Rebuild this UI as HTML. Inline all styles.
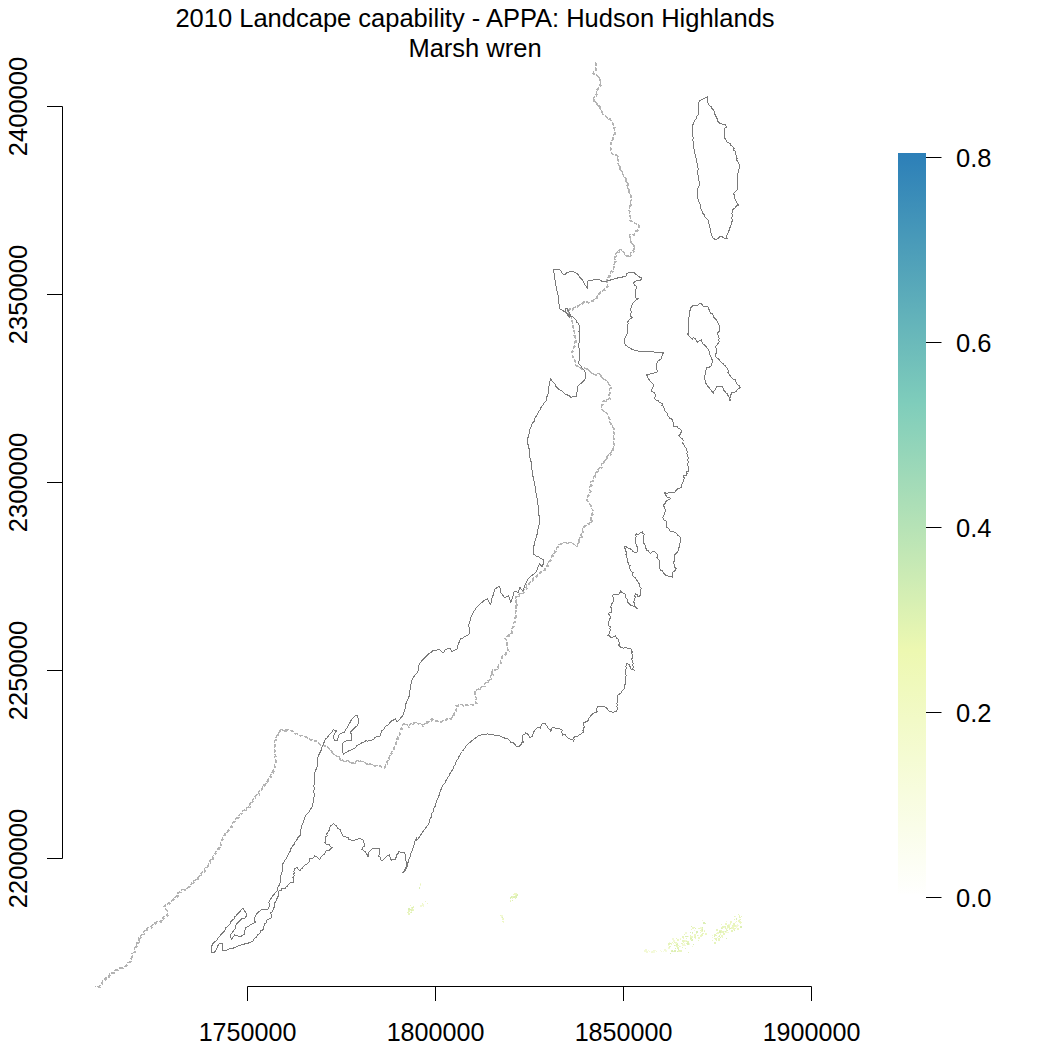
<!DOCTYPE html>
<html><head><meta charset="utf-8"><title>Landscape capability</title>
<style>html,body{margin:0;padding:0;background:#fff;width:1050px;height:1050px;overflow:hidden}svg{display:block}</style>
</head><body>
<svg width="1050" height="1050" viewBox="0 0 1050 1050"><defs><linearGradient id="cb" gradientUnits="userSpaceOnUse" x1="0" y1="897.5" x2="0" y2="153"><stop offset="0" stop-color="#ffffff"/><stop offset="0.3317" stop-color="#edf8b1"/><stop offset="0.6634" stop-color="#7fcdbb"/><stop offset="1" stop-color="#2c7fb8"/></linearGradient></defs><rect width="1050" height="1050" fill="#fff"/><polyline points="595.5,62.1 596.2,64.8 595.8,67.5 595.7,70.0 593.9,71.7 593.0,73.6 595.3,74.2 597.0,75.9 599.9,76.9 599.6,80.1 600.6,83.6 599.6,85.9 598.1,88.1 596.4,90.1 596.6,92.9 595.7,95.2 594.2,97.4 593.0,100.3 594.9,101.6 596.6,103.1 597.2,105.5 599.9,106.2 600.1,108.6 601.9,111.5 602.6,114.2 604.6,115.3 606.4,116.8 607.9,118.7 610.6,119.1 611.3,121.6 612.6,123.7 614.3,125.7 613.9,127.9 614.6,130.2 614.4,132.4 614.0,134.5 613.0,136.6 612.6,138.8 612.0,141.0 610.7,143.0 610.6,146.1 610.4,149.1 611.5,153.7 614.3,154.7 617.7,155.4 617.5,157.9 618.0,160.2 617.7,162.7 618.4,165.1 620.1,167.0 619.9,169.6 622.3,171.2 622.7,173.6 623.1,176.1 625.1,178.0 625.5,180.6 627.2,182.7 627.1,185.5 627.7,188.0 628.8,190.4 629.1,193.1 630.8,195.3 631.0,197.8 630.8,200.2 630.4,202.6 630.3,205.0 629.2,207.3 629.0,209.9 629.8,212.4 629.5,215.0 630.6,217.4 629.7,220.2 632.5,221.3 635.1,223.1 638.5,223.7 638.7,226.9 637.7,229.7 635.4,231.4 634.1,234.4 631.4,234.5 629.6,235.1 630.1,238.0 630.4,240.4 631.0,243.2 633.7,244.8 634.2,249.2 632.8,251.1 630.8,252.7 629.6,256.6 625.6,255.1 623.3,251.3 620.4,249.3 618.7,251.0 616.7,252.6 614.8,256.3 614.8,258.7 615.2,261.1 614.6,263.2 613.4,265.6 613.7,268.8 610.9,271.8 609.7,274.2 608.6,276.7 607.1,278.9 606.9,281.8 607.5,284.8 606.1,288.5 603.7,289.5 601.9,291.2 599.8,292.6 597.5,295.1 596.4,298.0 593.3,300.0 591.2,301.2 589.4,302.4 585.8,301.9 583.1,302.1 581.5,303.6 579.8,304.7 577.7,305.6 575.8,307.1 573.6,307.9 571.7,309.2 569.2,309.1 567.4,310.3 568.7,312.5 569.8,314.8 571.3,317.2 571.3,319.6 572.1,321.9 572.6,324.2 572.6,326.5 573.3,328.6 573.6,330.9 574.8,332.8 574.0,335.4 575.1,337.3 575.5,340.1 574.9,342.7 574.3,345.4 573.6,347.6 573.3,350.0 571.4,352.1 571.6,354.4 572.9,356.5 573.3,358.7 574.7,360.7 575.3,362.9 575.4,365.0 578.5,366.3 581.2,368.6 584.1,368.1 586.8,368.5 588.7,370.5 591.3,372.4 593.2,374.1 595.5,374.5 597.7,373.4 600.0,374.0 601.0,376.4 602.9,378.1 604.8,379.7 607.1,381.1 608.6,383.9 610.6,386.7 609.5,389.9 609.6,392.7 608.9,395.3 609.2,398.4 606.6,399.9 603.2,400.8 602.3,403.1 601.9,405.5 601.5,408.5 603.0,410.3 604.7,412.0 607.0,413.2 608.2,415.3 608.8,417.7 609.6,420.1 609.8,422.1 610.9,424.1 612.4,425.9 613.3,428.0 613.0,430.8 614.1,433.4 613.5,436.2 613.6,438.7 613.2,441.0 613.8,443.4 613.6,445.7 613.1,448.1 612.0,450.5 610.8,452.9 608.9,455.0 607.1,456.5 605.7,458.4 604.8,460.6 603.1,462.2 601.4,463.9 601.2,466.8 598.9,468.5 597.1,470.6 596.0,472.9 594.7,475.2 593.7,477.8 592.8,480.3 590.5,482.2 591.1,484.6 590.0,486.7 589.5,489.0 590.3,491.4 589.4,493.6 587.6,495.6 587.0,498.0 587.0,500.1 588.6,502.3 590.2,504.5 590.6,507.6 592.3,509.3 593.1,512.0 591.5,514.4 590.9,516.9 591.1,519.5 591.1,522.3 588.6,523.2 586.5,525.1 584.6,525.9 582.4,527.7 582.5,530.0 582.1,532.2 580.9,534.2 581.2,536.7 579.4,538.5 578.3,540.8 578.1,543.6 576.2,546.0 574.5,544.5 572.9,543.4 570.7,542.5 568.4,542.9 566.1,542.4 564.2,542.6 561.4,542.6 559.8,544.6 557.6,545.6 556.5,549.1 554.6,551.1 554.0,553.8 551.9,555.6 551.2,558.3 549.7,560.4 548.3,562.6 547.6,565.3 545.5,567.1 544.4,569.6 542.8,571.4 540.1,571.9 539.0,574.3 536.9,575.5 534.8,576.7 533.2,578.5 532.0,580.5 530.2,582.0 528.7,583.6 526.8,585.1 526.3,587.5 524.3,589.0 523.5,591.2 522.1,593.2 519.7,593.8 518.1,595.4 516.1,596.7 515.7,599.0 515.5,601.3 516.3,603.5 516.0,605.8 516.2,608.1 515.9,610.6 515.2,613.1 515.3,615.7 514.9,618.2 514.7,620.8 513.5,623.1 513.2,625.6 512.2,627.9 511.4,630.3 511.7,633.2 509.4,634.7 507.0,636.1 505.1,638.7 506.7,641.0 507.0,643.6 506.8,646.2 508.2,650.5 506.4,652.2 505.1,654.3 502.6,655.6 501.5,657.7 500.3,659.8 500.6,662.6 498.7,664.4 497.8,666.7 497.3,669.6 492.7,669.8 491.7,671.8 492.3,674.4 490.3,676.0 490.4,678.5 489.5,680.5 487.0,681.3 485.3,683.1 484.2,685.5 482.0,686.7 480.0,688.1 477.3,689.8 474.8,690.9 475.0,693.4 474.7,696.0 476.3,698.2 475.7,700.9 476.2,703.4 473.7,704.7 470.9,704.6 468.1,704.6 465.8,705.0 463.6,705.9 461.2,704.5 458.9,705.0 455.9,705.4 456.6,708.0 455.6,710.0 455.2,712.3 453.2,713.9 453.1,716.5 451.3,718.1 449.0,719.1 446.5,718.9 444.3,719.6 442.3,721.2 440.0,721.9 437.9,721.2 434.8,720.3 431.7,718.7 430.4,720.8 428.5,722.0 426.0,722.2 424.4,723.8 422.2,725.5 420.5,723.4 418.2,723.3 416.2,722.4 414.3,722.9 411.0,723.6 408.6,726.7 406.4,724.2 403.4,723.5 402.5,726.1 401.1,728.5 399.5,730.7 399.7,733.3 399.0,735.6 397.4,737.4 396.9,739.8 396.3,741.9 395.4,744.0 394.8,746.1 393.7,748.1 392.7,750.1 391.9,752.2 390.2,753.8 389.9,756.1 388.6,757.9 388.1,760.2 386.8,762.0 386.1,764.8 384.0,767.3 381.8,767.3 379.9,765.5 377.7,765.4 375.4,765.6 372.4,764.7 369.6,763.7 366.6,764.1 364.6,762.0 361.8,761.7 359.4,760.7 356.7,760.9 354.5,762.5 352.0,763.1 350.1,762.0 348.2,760.7 345.8,761.0 342.7,760.1 340.0,760.6 339.1,756.8 336.7,755.9 334.4,754.7 332.1,752.5 330.5,750.0 328.2,748.2 326.7,745.4 324.2,745.4 321.9,744.7 319.5,744.0 317.9,741.8 315.7,740.8 313.4,740.2 310.9,739.9 308.4,738.4 306.0,736.9 303.0,735.7 299.8,735.3 297.5,733.8 294.8,733.2 292.3,730.9 289.1,729.7 286.2,730.1 283.3,730.3 279.8,729.0 279.2,731.9 277.5,734.1 276.6,736.4 275.4,738.9 274.8,741.5 274.3,744.1 274.3,746.7 274.0,748.9 275.0,751.1 274.7,753.3 275.2,755.5 274.8,757.8 275.6,760.1 275.4,762.5 274.7,764.8 274.5,767.2 273.7,769.4 272.7,771.7 271.3,773.7 270.5,776.0 269.4,778.1 267.6,779.8 266.8,782.2 265.3,784.2 262.9,785.4 262.5,788.2 260.2,789.5 258.9,791.6 258.3,794.2 255.7,795.3 254.2,797.3 253.2,799.6 251.6,801.5 250.1,803.4 249.6,806.2 247.2,807.5 245.5,809.3 243.2,810.7 241.4,812.6 239.6,814.4 238.3,816.5 236.3,818.0 235.0,820.1 233.3,821.9 232.4,824.3 231.4,826.4 229.9,828.2 228.2,829.8 227.2,832.0 224.8,833.2 223.9,835.4 222.9,837.6 221.9,839.9 220.9,842.1 220.3,844.5 220.1,847.3 217.7,848.5 216.4,850.5 215.5,852.7 214.1,854.6 212.7,856.4 212.3,859.0 209.9,860.3 209.4,862.7 208.3,864.9 206.7,866.6 204.7,868.2 204.2,870.7 202.1,872.1 200.5,873.7 199.5,875.9 198.0,877.7 196.2,879.2 194.4,880.6 192.6,882.1 191.2,883.9 189.6,885.5 188.2,887.5 186.2,888.5 184.2,889.5 181.9,889.9 180.4,891.7 178.2,892.4 177.6,894.9 176.2,896.7 174.5,898.3 172.5,899.7 171.2,901.4 169.2,902.6 167.6,904.3 165.4,905.1 163.5,906.3 165.0,908.5 167.0,910.4 167.5,912.6 167.0,915.2 164.5,916.0 163.1,917.8 162.7,920.8 160.0,921.2 157.4,921.7 155.0,922.6 153.2,924.6 151.5,926.2 149.8,927.7 147.2,928.0 146.1,930.4 143.9,931.3 143.0,934.0 140.9,935.9 138.6,937.9 139.1,940.7 137.0,942.6 136.6,945.1 135.1,947.1 134.5,949.5 134.1,952.2 131.9,953.9 131.4,956.6 131.0,959.2 129.8,961.6 127.4,963.4 125.7,965.8 123.5,966.8 121.3,967.8 119.0,968.2 117.2,969.6 114.8,970.2 113.9,972.8 111.2,973.1 109.3,974.4 108.5,977.0 105.8,977.7 104.3,979.7 102.3,981.3 101.4,984.2 99.4,986.4 97.2,986.4 94.9,986.2" fill="none" stroke="#b2b2b2" stroke-width="1.3" stroke-dasharray="4 1.2" shape-rendering="crispEdges"/><polyline transform="translate(0.8 0.8)" points="595.5,62.1 596.2,64.8 595.8,67.5 595.7,70.0 593.9,71.7 593.0,73.6 595.3,74.2 597.0,75.9 599.9,76.9 599.6,80.1 600.6,83.6 599.6,85.9 598.1,88.1 596.4,90.1 596.6,92.9 595.7,95.2 594.2,97.4 593.0,100.3 594.9,101.6 596.6,103.1 597.2,105.5 599.9,106.2 600.1,108.6 601.9,111.5 602.6,114.2 604.6,115.3 606.4,116.8 607.9,118.7 610.6,119.1 611.3,121.6 612.6,123.7 614.3,125.7 613.9,127.9 614.6,130.2 614.4,132.4 614.0,134.5 613.0,136.6 612.6,138.8 612.0,141.0 610.7,143.0 610.6,146.1 610.4,149.1 611.5,153.7 614.3,154.7 617.7,155.4 617.5,157.9 618.0,160.2 617.7,162.7 618.4,165.1 620.1,167.0 619.9,169.6 622.3,171.2 622.7,173.6 623.1,176.1 625.1,178.0 625.5,180.6 627.2,182.7 627.1,185.5 627.7,188.0 628.8,190.4 629.1,193.1 630.8,195.3 631.0,197.8 630.8,200.2 630.4,202.6 630.3,205.0 629.2,207.3 629.0,209.9 629.8,212.4 629.5,215.0 630.6,217.4 629.7,220.2 632.5,221.3 635.1,223.1 638.5,223.7 638.7,226.9 637.7,229.7 635.4,231.4 634.1,234.4 631.4,234.5 629.6,235.1 630.1,238.0 630.4,240.4 631.0,243.2 633.7,244.8 634.2,249.2 632.8,251.1 630.8,252.7 629.6,256.6 625.6,255.1 623.3,251.3 620.4,249.3 618.7,251.0 616.7,252.6 614.8,256.3 614.8,258.7 615.2,261.1 614.6,263.2 613.4,265.6 613.7,268.8 610.9,271.8 609.7,274.2 608.6,276.7 607.1,278.9 606.9,281.8 607.5,284.8 606.1,288.5 603.7,289.5 601.9,291.2 599.8,292.6 597.5,295.1 596.4,298.0 593.3,300.0 591.2,301.2 589.4,302.4 585.8,301.9 583.1,302.1 581.5,303.6 579.8,304.7 577.7,305.6 575.8,307.1 573.6,307.9 571.7,309.2 569.2,309.1 567.4,310.3 568.7,312.5 569.8,314.8 571.3,317.2 571.3,319.6 572.1,321.9 572.6,324.2 572.6,326.5 573.3,328.6 573.6,330.9 574.8,332.8 574.0,335.4 575.1,337.3 575.5,340.1 574.9,342.7 574.3,345.4 573.6,347.6 573.3,350.0 571.4,352.1 571.6,354.4 572.9,356.5 573.3,358.7 574.7,360.7 575.3,362.9 575.4,365.0 578.5,366.3 581.2,368.6 584.1,368.1 586.8,368.5 588.7,370.5 591.3,372.4 593.2,374.1 595.5,374.5 597.7,373.4 600.0,374.0 601.0,376.4 602.9,378.1 604.8,379.7 607.1,381.1 608.6,383.9 610.6,386.7 609.5,389.9 609.6,392.7 608.9,395.3 609.2,398.4 606.6,399.9 603.2,400.8 602.3,403.1 601.9,405.5 601.5,408.5 603.0,410.3 604.7,412.0 607.0,413.2 608.2,415.3 608.8,417.7 609.6,420.1 609.8,422.1 610.9,424.1 612.4,425.9 613.3,428.0 613.0,430.8 614.1,433.4 613.5,436.2 613.6,438.7 613.2,441.0 613.8,443.4 613.6,445.7 613.1,448.1 612.0,450.5 610.8,452.9 608.9,455.0 607.1,456.5 605.7,458.4 604.8,460.6 603.1,462.2 601.4,463.9 601.2,466.8 598.9,468.5 597.1,470.6 596.0,472.9 594.7,475.2 593.7,477.8 592.8,480.3 590.5,482.2 591.1,484.6 590.0,486.7 589.5,489.0 590.3,491.4 589.4,493.6 587.6,495.6 587.0,498.0 587.0,500.1 588.6,502.3 590.2,504.5 590.6,507.6 592.3,509.3 593.1,512.0 591.5,514.4 590.9,516.9 591.1,519.5 591.1,522.3 588.6,523.2 586.5,525.1 584.6,525.9 582.4,527.7 582.5,530.0 582.1,532.2 580.9,534.2 581.2,536.7 579.4,538.5 578.3,540.8 578.1,543.6 576.2,546.0 574.5,544.5 572.9,543.4 570.7,542.5 568.4,542.9 566.1,542.4 564.2,542.6 561.4,542.6 559.8,544.6 557.6,545.6 556.5,549.1 554.6,551.1 554.0,553.8 551.9,555.6 551.2,558.3 549.7,560.4 548.3,562.6 547.6,565.3 545.5,567.1 544.4,569.6 542.8,571.4 540.1,571.9 539.0,574.3 536.9,575.5 534.8,576.7 533.2,578.5 532.0,580.5 530.2,582.0 528.7,583.6 526.8,585.1 526.3,587.5 524.3,589.0 523.5,591.2 522.1,593.2 519.7,593.8 518.1,595.4 516.1,596.7 515.7,599.0 515.5,601.3 516.3,603.5 516.0,605.8 516.2,608.1 515.9,610.6 515.2,613.1 515.3,615.7 514.9,618.2 514.7,620.8 513.5,623.1 513.2,625.6 512.2,627.9 511.4,630.3 511.7,633.2 509.4,634.7 507.0,636.1 505.1,638.7 506.7,641.0 507.0,643.6 506.8,646.2 508.2,650.5 506.4,652.2 505.1,654.3 502.6,655.6 501.5,657.7 500.3,659.8 500.6,662.6 498.7,664.4 497.8,666.7 497.3,669.6 492.7,669.8 491.7,671.8 492.3,674.4 490.3,676.0 490.4,678.5 489.5,680.5 487.0,681.3 485.3,683.1 484.2,685.5 482.0,686.7 480.0,688.1 477.3,689.8 474.8,690.9 475.0,693.4 474.7,696.0 476.3,698.2 475.7,700.9 476.2,703.4 473.7,704.7 470.9,704.6 468.1,704.6 465.8,705.0 463.6,705.9 461.2,704.5 458.9,705.0 455.9,705.4 456.6,708.0 455.6,710.0 455.2,712.3 453.2,713.9 453.1,716.5 451.3,718.1 449.0,719.1 446.5,718.9 444.3,719.6 442.3,721.2 440.0,721.9 437.9,721.2 434.8,720.3 431.7,718.7 430.4,720.8 428.5,722.0 426.0,722.2 424.4,723.8 422.2,725.5 420.5,723.4 418.2,723.3 416.2,722.4 414.3,722.9 411.0,723.6 408.6,726.7 406.4,724.2 403.4,723.5 402.5,726.1 401.1,728.5 399.5,730.7 399.7,733.3 399.0,735.6 397.4,737.4 396.9,739.8 396.3,741.9 395.4,744.0 394.8,746.1 393.7,748.1 392.7,750.1 391.9,752.2 390.2,753.8 389.9,756.1 388.6,757.9 388.1,760.2 386.8,762.0 386.1,764.8 384.0,767.3 381.8,767.3 379.9,765.5 377.7,765.4 375.4,765.6 372.4,764.7 369.6,763.7 366.6,764.1 364.6,762.0 361.8,761.7 359.4,760.7 356.7,760.9 354.5,762.5 352.0,763.1 350.1,762.0 348.2,760.7 345.8,761.0 342.7,760.1 340.0,760.6 339.1,756.8 336.7,755.9 334.4,754.7 332.1,752.5 330.5,750.0 328.2,748.2 326.7,745.4 324.2,745.4 321.9,744.7 319.5,744.0 317.9,741.8 315.7,740.8 313.4,740.2 310.9,739.9 308.4,738.4 306.0,736.9 303.0,735.7 299.8,735.3 297.5,733.8 294.8,733.2 292.3,730.9 289.1,729.7 286.2,730.1 283.3,730.3 279.8,729.0 279.2,731.9 277.5,734.1 276.6,736.4 275.4,738.9 274.8,741.5 274.3,744.1 274.3,746.7 274.0,748.9 275.0,751.1 274.7,753.3 275.2,755.5 274.8,757.8 275.6,760.1 275.4,762.5 274.7,764.8 274.5,767.2 273.7,769.4 272.7,771.7 271.3,773.7 270.5,776.0 269.4,778.1 267.6,779.8 266.8,782.2 265.3,784.2 262.9,785.4 262.5,788.2 260.2,789.5 258.9,791.6 258.3,794.2 255.7,795.3 254.2,797.3 253.2,799.6 251.6,801.5 250.1,803.4 249.6,806.2 247.2,807.5 245.5,809.3 243.2,810.7 241.4,812.6 239.6,814.4 238.3,816.5 236.3,818.0 235.0,820.1 233.3,821.9 232.4,824.3 231.4,826.4 229.9,828.2 228.2,829.8 227.2,832.0 224.8,833.2 223.9,835.4 222.9,837.6 221.9,839.9 220.9,842.1 220.3,844.5 220.1,847.3 217.7,848.5 216.4,850.5 215.5,852.7 214.1,854.6 212.7,856.4 212.3,859.0 209.9,860.3 209.4,862.7 208.3,864.9 206.7,866.6 204.7,868.2 204.2,870.7 202.1,872.1 200.5,873.7 199.5,875.9 198.0,877.7 196.2,879.2 194.4,880.6 192.6,882.1 191.2,883.9 189.6,885.5 188.2,887.5 186.2,888.5 184.2,889.5 181.9,889.9 180.4,891.7 178.2,892.4 177.6,894.9 176.2,896.7 174.5,898.3 172.5,899.7 171.2,901.4 169.2,902.6 167.6,904.3 165.4,905.1 163.5,906.3 165.0,908.5 167.0,910.4 167.5,912.6 167.0,915.2 164.5,916.0 163.1,917.8 162.7,920.8 160.0,921.2 157.4,921.7 155.0,922.6 153.2,924.6 151.5,926.2 149.8,927.7 147.2,928.0 146.1,930.4 143.9,931.3 143.0,934.0 140.9,935.9 138.6,937.9 139.1,940.7 137.0,942.6 136.6,945.1 135.1,947.1 134.5,949.5 134.1,952.2 131.9,953.9 131.4,956.6 131.0,959.2 129.8,961.6 127.4,963.4 125.7,965.8 123.5,966.8 121.3,967.8 119.0,968.2 117.2,969.6 114.8,970.2 113.9,972.8 111.2,973.1 109.3,974.4 108.5,977.0 105.8,977.7 104.3,979.7 102.3,981.3 101.4,984.2 99.4,986.4 97.2,986.4 94.9,986.2" fill="none" stroke="#b6b6b6" stroke-width="1.3" stroke-dasharray="2.5 3" shape-rendering="crispEdges"/><g shape-rendering="crispEdges"><rect x="685" y="932" width="2" height="2" fill="#f3f9d6"/><rect x="687" y="936" width="1" height="1" fill="#e6f4bb"/><rect x="698" y="928" width="1" height="1" fill="#eef7c4"/><rect x="684" y="941" width="1" height="1" fill="#eef7c4"/><rect x="688" y="943" width="2" height="2" fill="#f3f9d6"/><rect x="692" y="933" width="1" height="1" fill="#e9f5c0"/><rect x="668" y="948" width="1" height="1" fill="#e6f4bb"/><rect x="690" y="937" width="2" height="2" fill="#dcefb5"/><rect x="684" y="943" width="1" height="1" fill="#f3f9d6"/><rect x="668" y="945" width="1" height="1" fill="#f3f9d6"/><rect x="692" y="932" width="1" height="1" fill="#dcefb5"/><rect x="679" y="946" width="1" height="1" fill="#e9f5c0"/><rect x="678" y="950" width="2" height="2" fill="#eef7c4"/><rect x="700" y="935" width="2" height="2" fill="#eef7c4"/><rect x="704" y="930" width="1" height="1" fill="#eef7c4"/><rect x="685" y="940" width="2" height="2" fill="#f3f9d6"/><rect x="670" y="943" width="1" height="1" fill="#dcefb5"/><rect x="671" y="943" width="1" height="1" fill="#eef7c4"/><rect x="704" y="930" width="1" height="1" fill="#eef7c4"/><rect x="668" y="947" width="2" height="2" fill="#f3f9d6"/><rect x="674" y="942" width="1" height="1" fill="#e6f4bb"/><rect x="683" y="940" width="2" height="2" fill="#eef7c4"/><rect x="683" y="942" width="1" height="1" fill="#eef7c4"/><rect x="676" y="945" width="2" height="2" fill="#e9f5c0"/><rect x="692" y="946" width="1" height="1" fill="#f3f9d6"/><rect x="677" y="951" width="1" height="1" fill="#dcefb5"/><rect x="682" y="944" width="1" height="1" fill="#eef7c4"/><rect x="690" y="939" width="1" height="1" fill="#e9f5c0"/><rect x="685" y="945" width="1" height="1" fill="#f3f9d6"/><rect x="674" y="945" width="1" height="1" fill="#dcefb5"/><rect x="702" y="933" width="1" height="1" fill="#e6f4bb"/><rect x="696" y="932" width="1" height="1" fill="#f3f9d6"/><rect x="701" y="929" width="1" height="1" fill="#eef7c4"/><rect x="669" y="946" width="1" height="1" fill="#e6f4bb"/><rect x="696" y="931" width="2" height="2" fill="#dcefb5"/><rect x="687" y="942" width="1" height="1" fill="#e6f4bb"/><rect x="676" y="938" width="1" height="1" fill="#dcefb5"/><rect x="676" y="942" width="1" height="1" fill="#eef7c4"/><rect x="670" y="946" width="1" height="1" fill="#e6f4bb"/><rect x="678" y="945" width="1" height="1" fill="#eef7c4"/><rect x="681" y="951" width="1" height="1" fill="#e9f5c0"/><rect x="669" y="942" width="1" height="1" fill="#f3f9d6"/><rect x="702" y="928" width="1" height="1" fill="#e9f5c0"/><rect x="692" y="927" width="2" height="2" fill="#eef7c4"/><rect x="695" y="928" width="1" height="1" fill="#f3f9d6"/><rect x="688" y="952" width="1" height="1" fill="#e6f4bb"/><rect x="698" y="937" width="2" height="2" fill="#eef7c4"/><rect x="701" y="930" width="2" height="2" fill="#eef7c4"/><rect x="700" y="927" width="2" height="2" fill="#f3f9d6"/><rect x="690" y="935" width="1" height="1" fill="#eef7c4"/><rect x="671" y="950" width="2" height="2" fill="#dcefb5"/><rect x="682" y="944" width="2" height="2" fill="#f3f9d6"/><rect x="685" y="936" width="1" height="1" fill="#dcefb5"/><rect x="690" y="936" width="2" height="2" fill="#eef7c4"/><rect x="676" y="943" width="2" height="2" fill="#dcefb5"/><rect x="702" y="927" width="1" height="1" fill="#dcefb5"/><rect x="673" y="943" width="1" height="1" fill="#f3f9d6"/><rect x="686" y="936" width="1" height="1" fill="#dcefb5"/><rect x="683" y="941" width="1" height="1" fill="#e6f4bb"/><rect x="682" y="947" width="1" height="1" fill="#e6f4bb"/><rect x="673" y="939" width="1" height="1" fill="#eef7c4"/><rect x="704" y="931" width="1" height="1" fill="#e6f4bb"/><rect x="672" y="938" width="2" height="2" fill="#f3f9d6"/><rect x="691" y="939" width="2" height="2" fill="#dcefb5"/><rect x="695" y="938" width="1" height="1" fill="#eef7c4"/><rect x="699" y="928" width="1" height="1" fill="#e9f5c0"/><rect x="669" y="947" width="1" height="1" fill="#e9f5c0"/><rect x="668" y="944" width="1" height="1" fill="#f3f9d6"/><rect x="685" y="948" width="1" height="1" fill="#e6f4bb"/><rect x="698" y="935" width="1" height="1" fill="#f3f9d6"/><rect x="672" y="942" width="1" height="1" fill="#eef7c4"/><rect x="694" y="935" width="1" height="1" fill="#f3f9d6"/><rect x="677" y="943" width="1" height="1" fill="#e6f4bb"/><rect x="676" y="938" width="1" height="1" fill="#e9f5c0"/><rect x="694" y="930" width="1" height="1" fill="#f3f9d6"/><rect x="700" y="932" width="1" height="1" fill="#eef7c4"/><rect x="683" y="944" width="2" height="2" fill="#f3f9d6"/><rect x="675" y="943" width="1" height="1" fill="#f3f9d6"/><rect x="688" y="936" width="1" height="1" fill="#f3f9d6"/><rect x="680" y="939" width="1" height="1" fill="#eef7c4"/><rect x="695" y="937" width="1" height="1" fill="#e6f4bb"/><rect x="677" y="939" width="2" height="2" fill="#eef7c4"/><rect x="705" y="923" width="1" height="1" fill="#dcefb5"/><rect x="702" y="930" width="1" height="1" fill="#dcefb5"/><rect x="687" y="943" width="2" height="2" fill="#dcefb5"/><rect x="686" y="941" width="1" height="1" fill="#e6f4bb"/><rect x="698" y="940" width="1" height="1" fill="#e9f5c0"/><rect x="680" y="946" width="1" height="1" fill="#f3f9d6"/><rect x="673" y="940" width="2" height="2" fill="#f3f9d6"/><rect x="690" y="937" width="1" height="1" fill="#e6f4bb"/><rect x="684" y="934" width="1" height="1" fill="#e9f5c0"/><rect x="687" y="936" width="1" height="1" fill="#dcefb5"/><rect x="693" y="944" width="1" height="1" fill="#dcefb5"/><rect x="700" y="930" width="1" height="1" fill="#e9f5c0"/><rect x="686" y="938" width="1" height="1" fill="#e9f5c0"/><rect x="682" y="943" width="1" height="1" fill="#e9f5c0"/><rect x="702" y="920" width="1" height="1" fill="#f3f9d6"/><rect x="671" y="944" width="1" height="1" fill="#eef7c4"/><rect x="703" y="922" width="2" height="2" fill="#dcefb5"/><rect x="677" y="947" width="2" height="2" fill="#e6f4bb"/><rect x="680" y="950" width="2" height="2" fill="#e9f5c0"/><rect x="680" y="938" width="1" height="1" fill="#f3f9d6"/><rect x="691" y="939" width="1" height="1" fill="#eef7c4"/><rect x="675" y="945" width="1" height="1" fill="#eef7c4"/><rect x="694" y="934" width="2" height="2" fill="#eef7c4"/><rect x="686" y="943" width="1" height="1" fill="#e9f5c0"/><rect x="691" y="936" width="2" height="2" fill="#eef7c4"/><rect x="682" y="936" width="2" height="2" fill="#e9f5c0"/><rect x="691" y="929" width="1" height="1" fill="#e9f5c0"/><rect x="676" y="943" width="1" height="1" fill="#e6f4bb"/><rect x="702" y="929" width="1" height="1" fill="#dcefb5"/><rect x="690" y="935" width="1" height="1" fill="#e6f4bb"/><rect x="697" y="935" width="1" height="1" fill="#e6f4bb"/><rect x="695" y="937" width="1" height="1" fill="#f3f9d6"/><rect x="671" y="950" width="1" height="1" fill="#e6f4bb"/><rect x="683" y="938" width="1" height="1" fill="#eef7c4"/><rect x="675" y="942" width="1" height="1" fill="#eef7c4"/><rect x="694" y="927" width="1" height="1" fill="#e9f5c0"/><rect x="705" y="933" width="2" height="2" fill="#eef7c4"/><rect x="668" y="943" width="2" height="2" fill="#e6f4bb"/><rect x="675" y="948" width="1" height="1" fill="#dcefb5"/><rect x="703" y="933" width="1" height="1" fill="#e9f5c0"/><rect x="670" y="953" width="1" height="1" fill="#dcefb5"/><rect x="682" y="940" width="2" height="2" fill="#e9f5c0"/><rect x="681" y="943" width="1" height="1" fill="#e6f4bb"/><rect x="674" y="950" width="2" height="2" fill="#dcefb5"/><rect x="696" y="933" width="1" height="1" fill="#eef7c4"/><rect x="687" y="941" width="1" height="1" fill="#dcefb5"/><rect x="701" y="934" width="2" height="2" fill="#e9f5c0"/><rect x="690" y="932" width="1" height="1" fill="#dcefb5"/><rect x="678" y="949" width="1" height="1" fill="#f3f9d6"/><rect x="673" y="951" width="1" height="1" fill="#e9f5c0"/><rect x="694" y="936" width="2" height="2" fill="#e6f4bb"/><rect x="695" y="928" width="1" height="1" fill="#dcefb5"/><rect x="679" y="950" width="1" height="1" fill="#e6f4bb"/><rect x="678" y="949" width="1" height="1" fill="#dcefb5"/><rect x="676" y="943" width="1" height="1" fill="#f3f9d6"/><rect x="687" y="941" width="2" height="2" fill="#e6f4bb"/><rect x="694" y="936" width="1" height="1" fill="#eef7c4"/><rect x="691" y="926" width="1" height="1" fill="#dcefb5"/><rect x="725" y="923" width="2" height="2" fill="#eef7c4"/><rect x="714" y="936" width="1" height="1" fill="#dcefb5"/><rect x="739" y="917" width="1" height="1" fill="#f3f9d6"/><rect x="736" y="921" width="1" height="1" fill="#e9f5c0"/><rect x="729" y="927" width="1" height="1" fill="#f3f9d6"/><rect x="726" y="928" width="1" height="1" fill="#f3f9d6"/><rect x="728" y="924" width="2" height="2" fill="#f3f9d6"/><rect x="720" y="930" width="2" height="2" fill="#e9f5c0"/><rect x="721" y="927" width="1" height="1" fill="#e9f5c0"/><rect x="739" y="920" width="1" height="1" fill="#eef7c4"/><rect x="712" y="937" width="1" height="1" fill="#f3f9d6"/><rect x="734" y="925" width="2" height="2" fill="#eef7c4"/><rect x="738" y="921" width="1" height="1" fill="#eef7c4"/><rect x="735" y="922" width="1" height="1" fill="#f3f9d6"/><rect x="733" y="925" width="1" height="1" fill="#e9f5c0"/><rect x="714" y="942" width="2" height="2" fill="#e6f4bb"/><rect x="741" y="922" width="1" height="1" fill="#eef7c4"/><rect x="730" y="921" width="2" height="2" fill="#eef7c4"/><rect x="718" y="938" width="1" height="1" fill="#dcefb5"/><rect x="725" y="931" width="2" height="2" fill="#f3f9d6"/><rect x="730" y="923" width="1" height="1" fill="#e9f5c0"/><rect x="736" y="918" width="1" height="1" fill="#dcefb5"/><rect x="734" y="924" width="1" height="1" fill="#e9f5c0"/><rect x="730" y="928" width="1" height="1" fill="#dcefb5"/><rect x="720" y="931" width="1" height="1" fill="#dcefb5"/><rect x="734" y="919" width="1" height="1" fill="#e6f4bb"/><rect x="727" y="927" width="1" height="1" fill="#eef7c4"/><rect x="712" y="935" width="1" height="1" fill="#f3f9d6"/><rect x="712" y="940" width="1" height="1" fill="#eef7c4"/><rect x="734" y="925" width="1" height="1" fill="#e9f5c0"/><rect x="719" y="938" width="1" height="1" fill="#e6f4bb"/><rect x="722" y="931" width="2" height="2" fill="#e6f4bb"/><rect x="737" y="924" width="1" height="1" fill="#f3f9d6"/><rect x="724" y="931" width="1" height="1" fill="#f3f9d6"/><rect x="736" y="919" width="1" height="1" fill="#dcefb5"/><rect x="728" y="932" width="1" height="1" fill="#f3f9d6"/><rect x="731" y="922" width="1" height="1" fill="#eef7c4"/><rect x="728" y="926" width="2" height="2" fill="#e9f5c0"/><rect x="729" y="929" width="1" height="1" fill="#eef7c4"/><rect x="721" y="928" width="1" height="1" fill="#dcefb5"/><rect x="726" y="929" width="1" height="1" fill="#e6f4bb"/><rect x="722" y="928" width="1" height="1" fill="#dcefb5"/><rect x="739" y="919" width="1" height="1" fill="#f3f9d6"/><rect x="727" y="932" width="1" height="1" fill="#f3f9d6"/><rect x="721" y="924" width="1" height="1" fill="#eef7c4"/><rect x="722" y="937" width="1" height="1" fill="#eef7c4"/><rect x="722" y="928" width="1" height="1" fill="#e9f5c0"/><rect x="723" y="933" width="2" height="2" fill="#e9f5c0"/><rect x="716" y="933" width="1" height="1" fill="#f3f9d6"/><rect x="738" y="920" width="1" height="1" fill="#eef7c4"/><rect x="718" y="936" width="1" height="1" fill="#eef7c4"/><rect x="731" y="927" width="2" height="2" fill="#eef7c4"/><rect x="729" y="925" width="1" height="1" fill="#eef7c4"/><rect x="720" y="937" width="1" height="1" fill="#dcefb5"/><rect x="714" y="934" width="2" height="2" fill="#e6f4bb"/><rect x="733" y="923" width="2" height="2" fill="#e9f5c0"/><rect x="722" y="928" width="1" height="1" fill="#e6f4bb"/><rect x="726" y="930" width="1" height="1" fill="#e9f5c0"/><rect x="739" y="915" width="1" height="1" fill="#eef7c4"/><rect x="736" y="927" width="1" height="1" fill="#f3f9d6"/><rect x="740" y="917" width="1" height="1" fill="#eef7c4"/><rect x="724" y="926" width="2" height="2" fill="#e6f4bb"/><rect x="719" y="936" width="1" height="1" fill="#dcefb5"/><rect x="718" y="939" width="2" height="2" fill="#e9f5c0"/><rect x="720" y="934" width="1" height="1" fill="#eef7c4"/><rect x="721" y="932" width="1" height="1" fill="#e6f4bb"/><rect x="739" y="921" width="2" height="2" fill="#eef7c4"/><rect x="721" y="931" width="1" height="1" fill="#e6f4bb"/><rect x="722" y="926" width="2" height="2" fill="#e9f5c0"/><rect x="727" y="925" width="2" height="2" fill="#e6f4bb"/><rect x="738" y="914" width="1" height="1" fill="#e9f5c0"/><rect x="740" y="926" width="2" height="2" fill="#dcefb5"/><rect x="726" y="921" width="1" height="1" fill="#f3f9d6"/><rect x="737" y="928" width="2" height="2" fill="#eef7c4"/><rect x="718" y="938" width="1" height="1" fill="#eef7c4"/><rect x="731" y="931" width="1" height="1" fill="#eef7c4"/><rect x="738" y="925" width="1" height="1" fill="#f3f9d6"/><rect x="730" y="924" width="1" height="1" fill="#f3f9d6"/><rect x="716" y="933" width="1" height="1" fill="#e9f5c0"/><rect x="719" y="935" width="1" height="1" fill="#e6f4bb"/><rect x="729" y="928" width="1" height="1" fill="#e6f4bb"/><rect x="714" y="938" width="1" height="1" fill="#e9f5c0"/><rect x="733" y="928" width="2" height="2" fill="#eef7c4"/><rect x="740" y="923" width="1" height="1" fill="#eef7c4"/><rect x="735" y="916" width="1" height="1" fill="#f3f9d6"/><rect x="718" y="938" width="2" height="2" fill="#e9f5c0"/><rect x="726" y="938" width="1" height="1" fill="#dcefb5"/><rect x="724" y="927" width="1" height="1" fill="#f3f9d6"/><rect x="732" y="927" width="1" height="1" fill="#eef7c4"/><rect x="732" y="926" width="2" height="2" fill="#eef7c4"/><rect x="731" y="930" width="2" height="2" fill="#e6f4bb"/><rect x="720" y="933" width="1" height="1" fill="#f3f9d6"/><rect x="735" y="928" width="1" height="1" fill="#e9f5c0"/><rect x="716" y="929" width="2" height="2" fill="#e9f5c0"/><rect x="734" y="930" width="1" height="1" fill="#dcefb5"/><rect x="717" y="932" width="2" height="2" fill="#eef7c4"/><rect x="721" y="936" width="1" height="1" fill="#f3f9d6"/><rect x="736" y="921" width="1" height="1" fill="#eef7c4"/><rect x="716" y="940" width="1" height="1" fill="#e6f4bb"/><rect x="717" y="937" width="1" height="1" fill="#f3f9d6"/><rect x="729" y="929" width="1" height="1" fill="#eef7c4"/><rect x="725" y="931" width="1" height="1" fill="#dcefb5"/><rect x="739" y="917" width="1" height="1" fill="#e6f4bb"/><rect x="736" y="925" width="2" height="2" fill="#f3f9d6"/><rect x="721" y="931" width="2" height="2" fill="#e9f5c0"/><rect x="732" y="925" width="1" height="1" fill="#e9f5c0"/><rect x="727" y="928" width="1" height="1" fill="#f3f9d6"/><rect x="715" y="938" width="2" height="2" fill="#e6f4bb"/><rect x="727" y="930" width="1" height="1" fill="#dcefb5"/><rect x="734" y="916" width="1" height="1" fill="#e9f5c0"/><rect x="719" y="930" width="1" height="1" fill="#e9f5c0"/><rect x="741" y="916" width="1" height="1" fill="#e9f5c0"/><rect x="740" y="919" width="1" height="1" fill="#e6f4bb"/><rect x="719" y="931" width="2" height="2" fill="#dcefb5"/><rect x="721" y="935" width="2" height="2" fill="#eef7c4"/><rect x="725" y="928" width="1" height="1" fill="#e6f4bb"/><rect x="739" y="916" width="1" height="1" fill="#e6f4bb"/><rect x="739" y="920" width="1" height="1" fill="#e9f5c0"/><rect x="716" y="935" width="1" height="1" fill="#e6f4bb"/><rect x="734" y="924" width="1" height="1" fill="#e6f4bb"/><rect x="645" y="950" width="1" height="1" fill="#f6fbe0"/><rect x="645" y="950" width="1" height="1" fill="#f6fbe0"/><rect x="661" y="951" width="1" height="1" fill="#f3f9d6"/><rect x="645" y="949" width="2" height="2" fill="#f3f9d6"/><rect x="644" y="950" width="1" height="1" fill="#f6fbe0"/><rect x="654" y="951" width="1" height="1" fill="#f3f9d6"/><rect x="655" y="950" width="1" height="1" fill="#f3f9d6"/><rect x="651" y="951" width="2" height="2" fill="#f3f9d6"/><rect x="653" y="950" width="2" height="2" fill="#f6fbe0"/><rect x="653" y="951" width="2" height="2" fill="#f6fbe0"/><rect x="663" y="951" width="1" height="1" fill="#f6fbe0"/><rect x="651" y="951" width="1" height="1" fill="#f6fbe0"/><rect x="665" y="950" width="2" height="2" fill="#f6fbe0"/><rect x="656" y="951" width="1" height="1" fill="#f3f9d6"/><rect x="646" y="951" width="2" height="2" fill="#f3f9d6"/><rect x="653" y="950" width="1" height="1" fill="#f3f9d6"/><rect x="655" y="950" width="1" height="1" fill="#f6fbe0"/><rect x="664" y="949" width="2" height="2" fill="#f3f9d6"/><rect x="646" y="950" width="1" height="1" fill="#f3f9d6"/><rect x="654" y="950" width="1" height="1" fill="#f3f9d6"/><rect x="664" y="950" width="1" height="1" fill="#f3f9d6"/><rect x="660" y="950" width="1" height="1" fill="#f6fbe0"/><rect x="644" y="950" width="2" height="2" fill="#f3f9d6"/><rect x="649" y="951" width="1" height="1" fill="#f3f9d6"/><rect x="648" y="950" width="1" height="1" fill="#f6fbe0"/><rect x="408" y="913" width="2" height="2" fill="#e6f4bb"/><rect x="408" y="914" width="1" height="1" fill="#e6f4bb"/><rect x="409" y="909" width="1" height="1" fill="#f3f9d6"/><rect x="407" y="912" width="1" height="1" fill="#e9f5c0"/><rect x="411" y="907" width="1" height="1" fill="#eef7c4"/><rect x="411" y="908" width="1" height="1" fill="#f3f9d6"/><rect x="411" y="912" width="1" height="1" fill="#dcefb5"/><rect x="411" y="910" width="1" height="1" fill="#e6f4bb"/><rect x="408" y="911" width="1" height="1" fill="#eef7c4"/><rect x="411" y="909" width="1" height="1" fill="#e9f5c0"/><rect x="411" y="910" width="1" height="1" fill="#dcefb5"/><rect x="412" y="907" width="1" height="1" fill="#dcefb5"/><rect x="413" y="907" width="1" height="1" fill="#e6f4bb"/><rect x="408" y="911" width="1" height="1" fill="#f3f9d6"/><rect x="413" y="906" width="1" height="1" fill="#e9f5c0"/><rect x="413" y="910" width="1" height="1" fill="#f3f9d6"/><rect x="412" y="908" width="1" height="1" fill="#e6f4bb"/><rect x="408" y="912" width="1" height="1" fill="#e9f5c0"/><rect x="407" y="912" width="1" height="1" fill="#eef7c4"/><rect x="411" y="911" width="1" height="1" fill="#f3f9d6"/><rect x="407" y="912" width="1" height="1" fill="#e9f5c0"/><rect x="412" y="909" width="2" height="2" fill="#eef7c4"/><rect x="410" y="909" width="1" height="1" fill="#e9f5c0"/><rect x="412" y="909" width="1" height="1" fill="#f3f9d6"/><rect x="410" y="912" width="1" height="1" fill="#e6f4bb"/><rect x="408" y="908" width="2" height="2" fill="#dcefb5"/><rect x="407" y="912" width="1" height="1" fill="#e9f5c0"/><rect x="410" y="912" width="1" height="1" fill="#e9f5c0"/><rect x="410" y="909" width="2" height="2" fill="#e9f5c0"/><rect x="410" y="910" width="1" height="1" fill="#eef7c4"/><rect x="413" y="910" width="1" height="1" fill="#e9f5c0"/><rect x="408" y="912" width="1" height="1" fill="#e9f5c0"/><rect x="412" y="909" width="1" height="1" fill="#e9f5c0"/><rect x="410" y="909" width="2" height="2" fill="#dcefb5"/><rect x="408" y="910" width="2" height="2" fill="#e9f5c0"/><rect x="412" y="910" width="1" height="1" fill="#e6f4bb"/><rect x="411" y="909" width="1" height="1" fill="#e6f4bb"/><rect x="410" y="910" width="1" height="1" fill="#f3f9d6"/><rect x="410" y="905" width="1" height="1" fill="#eef7c4"/><rect x="408" y="913" width="2" height="2" fill="#e9f5c0"/><rect x="422" y="904" width="2" height="2" fill="#f3f9d6"/><rect x="427" y="903" width="1" height="1" fill="#eef7c4"/><rect x="422" y="903" width="1" height="1" fill="#eef7c4"/><rect x="423" y="906" width="1" height="1" fill="#f3f9d6"/><rect x="420" y="905" width="2" height="2" fill="#f3f9d6"/><rect x="425" y="901" width="1" height="1" fill="#eef7c4"/><rect x="420" y="883" width="1" height="1" fill="#f3f9d6"/><rect x="419" y="888" width="1" height="1" fill="#e6f4bb"/><rect x="420" y="885" width="1" height="1" fill="#f3f9d6"/><rect x="419" y="888" width="1" height="1" fill="#f3f9d6"/><rect x="419" y="887" width="1" height="1" fill="#f3f9d6"/><rect x="419" y="887" width="1" height="1" fill="#dcefb5"/><rect x="420" y="884" width="1" height="1" fill="#e9f5c0"/><rect x="419" y="888" width="1" height="1" fill="#dcefb5"/><rect x="510" y="900" width="1" height="1" fill="#eef7c4"/><rect x="515" y="895" width="1" height="1" fill="#e6f4bb"/><rect x="515" y="894" width="1" height="1" fill="#eef7c4"/><rect x="516" y="894" width="2" height="2" fill="#dcefb5"/><rect x="511" y="897" width="1" height="1" fill="#dcefb5"/><rect x="512" y="897" width="1" height="1" fill="#e6f4bb"/><rect x="514" y="896" width="1" height="1" fill="#eef7c4"/><rect x="512" y="896" width="1" height="1" fill="#e6f4bb"/><rect x="514" y="896" width="1" height="1" fill="#dcefb5"/><rect x="515" y="895" width="1" height="1" fill="#dcefb5"/><rect x="513" y="896" width="2" height="2" fill="#dcefb5"/><rect x="510" y="897" width="1" height="1" fill="#dcefb5"/><rect x="512" y="897" width="1" height="1" fill="#eef7c4"/><rect x="510" y="901" width="1" height="1" fill="#e6f4bb"/><rect x="512" y="898" width="1" height="1" fill="#eef7c4"/><rect x="513" y="896" width="1" height="1" fill="#eef7c4"/><rect x="515" y="895" width="1" height="1" fill="#eef7c4"/><rect x="515" y="896" width="2" height="2" fill="#dcefb5"/><rect x="516" y="895" width="1" height="1" fill="#dcefb5"/><rect x="514" y="896" width="1" height="1" fill="#dcefb5"/><rect x="515" y="898" width="1" height="1" fill="#e6f4bb"/><rect x="514" y="893" width="2" height="2" fill="#eef7c4"/><rect x="513" y="896" width="1" height="1" fill="#e6f4bb"/><rect x="515" y="893" width="2" height="2" fill="#eef7c4"/><rect x="512" y="900" width="1" height="1" fill="#dcefb5"/><rect x="511" y="896" width="1" height="1" fill="#dcefb5"/><rect x="515" y="897" width="1" height="1" fill="#eef7c4"/><rect x="510" y="898" width="1" height="1" fill="#dcefb5"/><rect x="515" y="897" width="1" height="1" fill="#e6f4bb"/><rect x="513" y="894" width="1" height="1" fill="#eef7c4"/><rect x="502" y="917" width="1" height="1" fill="#eef7c4"/><rect x="502" y="918" width="2" height="2" fill="#eef7c4"/><rect x="501" y="915" width="2" height="2" fill="#f3f9d6"/><rect x="501" y="917" width="1" height="1" fill="#dcefb5"/><rect x="502" y="918" width="1" height="1" fill="#f3f9d6"/><rect x="501" y="917" width="1" height="1" fill="#f3f9d6"/><rect x="500" y="915" width="1" height="1" fill="#eef7c4"/><rect x="502" y="921" width="1" height="1" fill="#eef7c4"/><rect x="502" y="917" width="1" height="1" fill="#dcefb5"/><rect x="503" y="922" width="1" height="1" fill="#f3f9d6"/><rect x="501" y="916" width="1" height="1" fill="#f3f9d6"/><rect x="503" y="921" width="1" height="1" fill="#eef7c4"/></g><polygon points="553.3,269.3 555.3,269.1 557.3,269.3 559.3,269.3 561.0,271.2 562.4,273.4 564.0,275.3 566.7,272.7 569.0,272.1 571.3,271.3 574.1,271.9 576.7,273.3 578.6,274.8 579.5,277.1 581.3,278.7 582.7,280.4 583.9,282.3 584.5,284.5 586.1,286.1 587.3,288.0 587.8,285.6 587.7,283.1 588.0,280.7 590.7,280.5 593.3,280.0 596.0,279.3 598.7,279.3 602.0,281.3 604.4,281.3 606.7,281.1 608.8,280.8 610.7,279.9 612.8,279.5 614.7,278.7 617.0,278.3 619.1,277.2 621.5,277.3 623.8,276.6 626.0,276.0 626.7,273.3 629.1,272.8 631.5,272.2 634.0,272.3 635.3,274.0 637.2,275.2 638.7,276.7 642.0,278.0 640.7,280.0 638.0,280.4 635.3,281.1 633.3,283.3 634.8,285.2 636.7,286.7 635.8,289.3 635.3,292.0 635.2,294.0 635.9,296.0 636.0,298.0 638.0,298.7 636.3,299.8 634.9,301.4 633.3,302.7 632.1,304.8 631.2,307.0 630.7,309.3 631.1,311.5 631.0,313.8 630.7,316.0 632.0,317.3 630.5,318.8 628.7,320.0 627.9,321.9 628.1,324.0 627.5,326.0 627.3,328.0 627.8,330.3 628.0,332.7 626.0,336.0 625.0,338.0 624.0,340.0 624.7,342.6 625.3,345.3 627.6,346.5 629.7,348.0 632.0,349.3 634.0,349.9 635.9,350.7 638.0,351.0 640.0,351.3 642.1,351.8 644.3,351.8 646.4,352.0 648.6,351.8 650.7,351.7 652.7,351.6 654.7,352.4 656.7,352.7 658.7,352.9 660.7,352.7 663.3,352.7 662.6,354.7 661.8,356.6 661.3,358.7 659.4,360.2 657.3,361.3 656.7,364.0 656.7,366.7 656.9,369.4 657.3,372.0 654.7,372.8 652.0,373.3 649.5,374.4 646.7,374.7 647.7,377.5 649.3,380.0 651.0,382.3 653.3,384.0 653.0,386.7 652.0,389.3 651.4,390.1 651.9,391.6 653.4,392.3 654.6,393.2 655.4,394.5 656.0,395.9 655.0,397.1 654.9,398.7 656.0,400.2 658.2,400.1 659.1,401.9 660.6,402.7 662.1,403.6 662.0,405.5 663.4,406.4 664.0,407.9 664.3,409.7 665.0,411.2 666.5,412.2 667.4,413.6 667.4,415.6 669.2,416.9 669.7,418.7 671.5,418.9 672.6,420.4 672.7,421.9 673.9,423.1 673.9,424.6 673.7,426.1 675.4,426.2 677.1,426.7 678.1,428.1 679.8,428.9 681.1,430.1 681.7,431.9 680.3,432.6 680.1,434.4 678.9,435.3 679.7,437.0 681.1,438.1 682.9,438.7 683.1,440.2 683.0,441.8 682.9,443.3 683.9,444.7 684.7,446.3 685.8,447.7 686.9,449.0 687.0,450.6 687.1,452.2 686.8,453.9 687.8,455.4 688.0,457.0 688.1,458.5 687.6,459.9 688.4,461.4 688.3,462.9 687.2,464.4 688.0,465.8 688.0,467.3 688.2,469.3 688.6,471.3 686.3,471.9 687.1,473.6 686.3,475.3 684.8,475.4 683.4,475.3 683.4,476.7 684.5,478.1 683.7,479.6 684.0,481.0 682.9,482.0 682.6,483.8 681.1,484.4 681.2,485.9 681.7,487.3 680.0,488.1 678.2,488.6 676.6,489.6 675.6,491.2 674.3,492.4 672.2,492.4 670.3,493.0 668.9,492.4 667.4,493.5 665.9,493.3 664.6,492.4 665.1,494.7 666.2,495.9 667.2,497.3 669.3,497.4 670.3,498.7 669.0,499.5 667.6,500.1 666.3,501.0 665.4,502.9 664.0,504.4 663.3,505.1 664.0,506.5 664.7,508.0 665.1,509.5 665.4,511.1 664.6,512.8 664.1,514.6 663.5,516.3 662.4,517.6 663.5,518.6 664.0,520.2 665.9,520.6 666.3,522.3 666.3,524.0 666.2,525.7 666.7,527.4 668.1,528.2 669.4,529.2 669.9,531.0 671.4,531.7 673.0,531.7 674.4,532.1 675.7,533.0 676.9,533.9 677.7,535.3 679.1,536.0 680.2,537.5 680.3,539.3 680.4,541.1 680.5,542.6 679.6,543.9 680.0,545.4 679.5,546.9 678.3,548.2 678.9,550.1 677.8,551.4 677.0,552.7 675.6,553.5 674.8,554.8 674.0,556.1 674.5,557.7 674.7,559.2 674.6,560.6 673.8,562.0 673.6,563.4 674.7,564.5 674.4,566.2 675.0,567.5 676.1,568.6 675.4,570.2 674.1,571.4 672.7,572.4 672.0,573.9 672.2,575.5 672.3,577.1 670.7,576.2 668.8,576.5 667.1,575.8 665.4,575.2 664.6,573.7 663.2,572.8 662.5,571.0 660.7,570.5 659.8,569.0 659.4,567.5 659.4,566.0 659.3,564.5 659.1,563.0 659.8,561.4 659.0,560.0 657.9,558.9 657.0,557.6 657.9,555.6 657.2,554.2 656.0,553.1 654.3,551.4 652.1,551.8 650.8,553.6 649.3,552.7 648.4,551.0 646.6,550.6 646.7,548.9 645.0,547.9 645.2,546.1 644.8,544.7 643.9,543.3 643.1,542.0 643.4,540.5 643.3,538.9 643.6,537.3 643.7,535.8 644.4,534.3 642.8,533.5 642.3,531.7 640.9,532.4 639.7,533.4 638.4,534.3 636.6,534.0 635.4,535.1 636.3,536.4 635.0,538.0 635.6,539.3 635.3,540.8 635.5,542.2 635.7,543.6 636.4,544.9 636.7,546.3 637.9,547.6 637.2,549.5 638.0,551.0 636.5,552.2 634.6,552.3 633.0,551.4 631.9,549.8 630.3,548.8 628.9,548.2 627.4,547.9 626.4,546.5 624.7,546.7 624.9,548.3 625.8,549.8 626.0,551.4 626.7,552.8 625.9,554.4 626.8,555.8 626.5,557.4 627.5,558.7 628.0,560.1 627.7,561.7 628.2,563.1 628.4,564.7 630.0,565.7 629.6,567.5 629.9,569.0 630.7,570.3 631.3,571.7 633.1,572.6 632.7,574.4 632.9,575.9 634.1,577.1 635.6,577.8 636.1,579.1 636.9,580.3 637.4,581.6 638.4,582.7 639.2,583.8 640.0,585.0 639.7,586.8 641.2,588.3 640.6,590.1 641.0,591.9 640.6,593.5 640.3,595.1 639.3,596.6 637.6,596.3 637.2,594.2 635.5,594.0 634.5,595.4 635.4,597.2 634.4,598.6 634.3,600.2 633.6,601.7 634.5,603.6 634.8,605.6 636.3,607.0 637.4,608.8 636.3,607.7 634.9,606.9 633.6,606.2 632.2,605.8 630.8,605.4 629.7,604.3 628.7,603.2 627.6,602.1 627.4,600.4 626.9,599.0 625.8,597.9 625.3,596.0 625.2,594.0 623.3,593.5 621.9,592.3 620.7,590.8 620.3,592.2 619.3,593.3 618.8,594.6 617.3,594.1 615.9,594.8 614.5,594.1 613.0,594.6 612.8,596.0 613.1,597.4 613.2,598.9 613.0,600.3 613.0,601.7 612.1,602.8 611.9,604.4 611.1,605.6 610.9,607.2 611.5,608.8 612.0,610.4 611.7,612.0 610.4,612.6 609.0,613.0 607.9,613.9 609.7,615.1 610.4,617.1 609.9,618.9 609.3,620.6 608.5,622.3 608.4,624.0 608.8,625.6 610.3,626.9 609.9,628.7 611.1,630.0 609.9,631.2 609.9,633.1 608.8,634.4 607.9,635.8 609.4,635.9 610.4,637.1 612.3,637.2 613.9,636.5 615.6,635.8 616.3,637.8 618.1,639.0 618.3,641.1 619.4,642.8 618.8,645.4 619.9,646.5 621.1,647.5 622.6,648.0 624.2,648.1 625.9,647.3 627.5,648.1 629.1,648.0 631.0,648.7 631.6,650.6 632.3,652.0 631.3,653.5 632.6,654.9 632.6,656.3 632.7,657.7 631.5,659.3 632.8,660.6 632.3,662.1 633.4,663.5 632.2,665.3 633.7,666.6 632.8,668.4 633.6,669.8 631.0,669.2 630.5,667.7 629.9,666.3 629.3,664.9 627.8,664.0 626.5,663.4 626.2,664.9 625.8,666.4 626.9,668.0 625.6,669.4 625.9,670.9 625.8,672.4 625.4,674.0 626.5,675.6 625.4,677.2 625.8,678.8 624.9,680.2 626.1,681.9 625.5,683.3 624.9,684.8 624.2,686.2 624.6,687.8 623.6,689.7 622.0,691.0 621.1,692.7 619.7,693.9 618.1,694.9 617.7,696.3 617.3,697.6 617.7,699.1 617.5,700.5 617.3,701.9 616.9,703.3 617.2,705.0 617.0,706.6 617.6,708.3 616.9,709.9 616.9,711.6 615.3,711.0 613.9,712.2 612.4,712.3 611.1,711.1 609.1,711.1 607.9,709.7 606.8,708.4 605.6,707.2 604.0,706.5 602.4,706.2 600.8,706.5 599.2,706.5 597.6,706.5 597.0,707.9 596.3,709.3 597.2,711.0 596.3,712.3 597.4,711.3 596.4,712.7 594.4,712.7 592.9,713.3 591.9,714.7 590.5,715.6 590.0,717.0 589.0,718.3 588.8,719.8 587.8,720.9 586.4,721.5 585.2,722.2 583.7,722.4 583.6,724.0 584.0,725.5 584.2,727.1 583.4,728.7 582.9,730.2 583.7,731.8 582.0,733.1 580.5,734.5 578.6,735.3 576.8,737.0 574.3,736.6 573.8,738.1 574.1,739.7 573.8,741.3 572.8,740.0 571.3,739.7 570.0,739.1 568.5,738.2 567.3,737.1 565.9,736.1 565.3,734.4 563.8,734.9 562.3,735.3 562.1,733.6 561.7,731.8 562.3,730.1 560.4,729.3 558.8,728.0 557.1,728.3 555.4,728.0 552.8,727.6 551.6,728.6 551.6,730.5 550.3,731.4 550.1,729.7 548.5,728.9 547.7,727.6 547.0,726.1 545.9,724.8 545.1,723.3 543.4,723.3 541.9,723.9 541.3,725.4 540.4,728.0 539.0,727.3 537.4,727.6 536.3,728.6 535.3,729.7 534.6,731.0 533.5,732.1 533.1,733.6 532.3,735.0 532.7,736.6 531.2,737.0 529.7,737.0 529.0,735.7 528.4,734.3 526.8,733.8 525.9,732.7 525.0,733.9 523.8,734.8 522.4,735.3 522.3,737.0 522.6,738.7 522.3,740.5 523.3,742.1 521.8,742.6 521.3,744.3 520.3,745.3 519.1,746.2 517.7,746.8 516.1,746.3 515.3,744.7 514.2,743.6 513.0,742.6 511.0,742.6 510.0,741.3 508.6,739.5 506.8,738.4 504.7,738.1 502.8,737.3 501.0,736.3 499.0,735.7 496.7,735.7 494.4,735.3 492.2,734.3 489.8,734.4 487.6,733.8 485.3,734.4 482.8,734.7 480.4,735.1 478.1,735.7 476.8,737.3 475.0,738.3 473.4,739.5 471.8,740.8 470.3,742.2 468.6,743.3 467.3,744.9 465.7,746.2 464.9,748.2 463.5,749.7 462.5,751.5 461.0,752.9 460.2,754.9 459.0,756.6 458.4,758.8 456.9,760.3 455.9,762.2 455.6,764.5 454.0,766.0 453.5,768.2 452.4,770.0 451.1,771.7 450.0,773.6 449.3,775.7 447.9,777.4 446.8,779.2 445.6,781.0 444.9,783.1 443.4,784.8 442.1,786.5 441.4,788.6 440.6,790.5 440.0,792.4 439.6,794.4 438.6,796.2 438.0,798.2 437.0,800.0 436.3,801.9 435.7,803.8 435.4,805.8 434.3,807.6 433.6,809.5 433.3,811.6 432.0,813.2 431.5,815.2 431.2,817.3 429.8,819.0 429.8,821.1 428.9,822.9 428.1,824.8 426.7,826.4 425.5,828.1 424.3,829.8 422.9,831.5 421.8,833.3 420.6,835.0 419.5,836.8 418.3,838.5 416.7,840.0 416.3,838.5 415.4,840.3 414.7,842.2 414.2,844.2 413.4,846.1 413.1,848.1 412.5,850.0 411.7,851.9 410.6,853.7 410.6,855.8 409.6,857.6 408.9,859.5 408.5,861.6 407.4,863.6 407.0,865.7 406.0,867.6 405.0,869.5 403.9,871.3 402.7,873.1 403.7,871.9 404.9,870.9 405.3,869.3 406.4,868.2 407.2,866.6 406.1,864.8 407.0,863.2 406.3,861.7 405.7,860.2 405.5,858.7 405.8,857.0 405.6,855.2 404.9,853.6 403.9,852.1 402.2,852.4 400.5,852.2 398.9,851.5 398.4,852.9 397.3,854.1 396.6,855.4 396.5,857.0 395.5,858.1 395.2,859.5 393.3,859.6 391.5,860.1 390.5,858.9 390.4,857.4 389.7,856.1 389.7,854.6 388.1,855.5 386.6,856.4 385.3,857.6 384.1,858.9 382.7,860.0 381.0,860.1 380.1,858.9 380.5,857.2 378.8,856.2 379.1,854.6 379.6,853.0 379.8,851.5 379.9,850.0 379.1,848.4 377.6,848.6 376.1,848.3 374.5,848.3 373.0,848.4 371.3,849.5 369.9,850.9 368.7,852.2 368.6,853.9 368.8,855.6 368.0,857.0 367.7,855.1 366.3,853.7 365.5,852.1 364.4,851.1 363.2,850.1 361.8,849.6 362.4,847.5 364.3,846.5 364.4,844.7 363.9,843.0 363.3,841.4 363.0,839.7 361.2,839.1 359.3,838.5 357.5,839.2 355.6,839.7 353.9,840.8 351.9,841.0 350.7,839.9 348.9,839.5 348.2,837.9 346.5,837.3 345.0,836.4 343.2,836.0 342.3,834.6 341.7,833.1 340.8,831.7 340.4,830.1 339.4,829.1 337.5,828.8 337.0,827.3 336.1,825.7 334.7,824.7 333.3,823.6 332.1,825.2 330.2,825.5 330.0,826.9 329.7,828.4 329.5,829.8 328.4,831.0 327.8,832.5 326.7,833.8 327.2,835.6 325.8,836.8 325.9,838.5 325.2,839.8 325.7,841.5 324.7,842.8 326.1,844.0 327.9,844.2 329.6,844.7 330.3,846.7 332.1,847.8 330.6,848.7 329.6,850.2 327.7,850.1 325.9,850.9 325.2,852.9 324.0,854.6 322.5,855.5 321.3,856.6 320.3,857.9 319.7,859.5 318.4,858.7 317.5,857.3 316.0,856.7 314.8,855.8 313.9,857.1 312.7,858.0 311.4,858.7 309.8,858.9 309.4,860.8 308.6,862.5 307.3,863.9 306.1,864.7 304.6,865.2 303.6,866.3 302.6,867.4 301.9,868.6 300.6,869.4 299.9,870.7 298.4,869.4 297.4,867.6 295.0,868.2 294.7,869.8 293.9,871.2 294.2,872.9 293.7,874.4 294.2,876.0 293.0,877.6 293.3,879.1 293.8,880.7 293.6,882.3 291.9,882.8 290.1,882.9 289.1,883.9 288.0,884.8 287.4,886.2 286.1,886.9 285.2,888.4 283.7,888.8 281.9,888.7 281.1,890.4 279.5,890.7 278.1,891.4 278.6,892.9 278.6,894.5 278.1,896.0 277.8,897.7 276.6,898.8 276.2,900.4 275.6,901.9 274.1,902.9 274.8,904.4 274.7,905.9 274.1,907.4 273.3,909.2 272.4,910.9 271.8,912.5 270.1,913.1 271.3,914.4 271.0,916.1 271.3,917.7 269.9,918.8 268.0,919.3 266.7,920.6 266.2,922.7 264.4,924.0 264.0,925.6 263.4,927.2 263.4,929.0 262.1,930.3 260.5,930.7 260.4,932.6 259.6,933.8 258.1,934.3 257.2,935.5 256.7,936.9 255.3,937.7 254.0,939.3 253.0,941.1 251.1,941.9 249.3,942.7 247.4,943.4 245.3,943.5 243.5,944.6 241.5,944.8 239.7,945.7 237.6,946.0 235.9,947.1 234.0,947.8 232.1,948.5 230.0,948.7 228.2,949.5 226.4,950.4 224.4,950.9 222.7,950.3 222.1,948.0 222.5,945.7 222.1,943.4 219.9,942.9 218.4,944.6 217.5,946.7 216.8,948.9 215.6,950.9 214.1,952.6 211.3,952.6 211.1,950.3 211.4,948.0 211.9,945.7 212.9,943.8 214.2,942.3 215.9,941.0 217.3,939.6 218.1,937.6 220.0,936.4 220.9,934.5 222.4,933.1 223.8,931.6 225.1,930.0 225.8,927.9 227.3,926.5 228.8,925.1 230.3,923.7 231.0,921.6 232.4,920.1 234.1,918.8 234.9,916.8 236.4,915.4 237.6,913.8 239.1,912.4 240.6,910.9 241.6,909.1 243.3,908.6 245.0,911.4 246.1,913.3 246.7,915.4 245.0,918.3 241.6,918.9 239.3,921.1 237.4,923.0 235.9,925.1 235.3,928.6 233.7,930.5 232.4,932.6 230.7,934.3 230.7,936.9 231.3,939.4 233.0,937.2 234.7,934.9 237.6,936.0 239.6,936.4 241.6,936.0 244.4,934.3 244.4,931.4 245.6,928.0 247.5,926.7 249.4,925.6 251.3,924.3 253.5,923.5 255.3,922.1 254.1,920.0 255.0,917.4 255.9,914.9 257.2,913.3 258.5,911.8 260.3,910.7 261.6,909.1 264.4,909.7 267.9,909.1 269.0,907.4 269.1,904.8 269.0,902.3 270.1,899.4 271.6,897.8 272.8,895.9 274.2,894.3 275.4,892.4 277.0,890.9 277.9,889.1 278.0,887.0 279.1,885.3 279.9,883.4 280.5,881.4 280.7,879.3 280.6,877.2 281.0,875.1 281.6,873.1 282.2,870.9 282.3,868.6 282.8,866.3 282.7,864.0 284.0,862.4 284.8,860.4 286.2,858.8 287.1,856.9 287.9,854.9 288.9,853.1 290.1,851.4 290.5,849.4 291.6,847.7 292.5,845.9 294.2,844.3 294.9,842.0 296.6,840.4 297.5,838.3 298.9,836.4 300.5,834.8 300.8,832.7 300.7,830.6 301.1,828.6 301.5,826.2 302.3,824.0 303.5,821.9 304.2,819.7 304.9,817.4 305.9,815.2 307.4,813.4 309.3,811.8 310.1,809.5 311.7,807.7 312.4,805.6 312.9,803.5 313.6,801.5 314.0,799.4 313.9,797.4 314.2,795.3 314.0,793.2 313.8,791.2 314.2,789.1 314.0,787.1 313.9,785.1 314.6,783.1 314.1,781.0 314.0,779.0 314.9,777.0 314.3,775.0 314.6,773.0 315.8,771.1 316.1,768.8 317.3,766.9 317.4,764.4 317.4,761.9 318.0,759.5 317.9,757.0 318.8,755.0 319.7,753.0 320.7,751.1 321.6,749.1 322.0,746.9 323.1,745.0 323.8,742.9 324.7,740.9 325.7,739.0 327.4,737.7 328.4,735.9 330.1,733.9 332.0,731.9 333.4,729.7 336.5,731.0 334.6,733.4 333.4,737.1 334.6,740.2 337.7,740.2 338.1,737.4 339.0,734.7 340.8,733.4 344.5,732.2 345.8,729.7 347.1,727.5 348.2,725.3 349.7,723.3 350.7,721.0 352.1,718.9 353.9,717.2 355.7,715.5 357.5,715.5 357.9,717.8 358.7,720.0 358.8,722.3 357.8,724.1 356.9,726.0 355.1,727.4 353.5,729.2 351.7,730.6 350.1,732.2 351.3,734.0 351.2,736.3 351.6,738.6 351.3,740.9 348.9,741.0 346.4,740.9 344.3,741.7 342.7,743.3 342.0,747.0 342.6,749.5 342.9,752.0 343.3,754.5 344.9,752.9 347.0,752.0 348.8,750.9 350.6,750.1 352.6,749.5 355.0,747.9 356.9,745.8 358.9,744.7 360.6,743.3 363.2,742.4 365.6,740.9 367.7,741.1 369.7,740.5 371.8,740.2 373.9,738.9 375.5,737.1 378.0,736.5 380.4,735.9 381.0,733.4 381.7,731.0 383.9,729.1 385.4,726.6 387.2,725.5 388.8,724.1 390.0,722.4 391.6,721.0 393.6,720.0 395.3,718.6 397.1,721.7 399.6,719.8 400.6,717.9 402.2,716.3 403.2,714.4 404.0,712.4 404.3,710.4 405.3,708.5 405.2,706.4 405.6,704.4 406.4,702.5 407.6,700.3 408.3,697.9 409.5,695.7 409.5,691.9 410.0,689.7 410.6,687.5 410.5,685.2 411.6,683.1 411.7,680.8 412.4,678.6 413.8,676.7 415.1,674.7 416.8,673.0 418.1,671.0 418.8,668.1 419.0,665.2 420.1,663.2 421.3,661.2 422.9,659.5 424.4,657.9 426.0,656.6 427.4,655.0 429.0,653.6 431.0,652.6 432.4,651.0 434.7,650.5 436.9,650.1 439.0,649.0 440.3,650.6 442.0,651.9 443.8,652.9 444.8,650.0 446.7,649.3 448.5,648.4 450.5,648.1 451.4,651.9 453.2,650.8 455.2,649.9 457.1,649.0 457.6,646.7 458.1,644.3 459.1,642.4 459.9,640.4 461.0,638.6 463.0,637.9 464.7,636.5 466.7,635.7 469.5,633.8 469.2,631.7 469.4,629.5 469.1,627.3 468.6,625.2 469.1,623.2 469.7,621.3 470.9,619.6 470.9,617.5 471.6,615.6 472.7,613.8 473.3,611.9 474.9,610.0 476.3,607.9 478.1,606.2 479.2,604.5 480.8,603.2 482.5,602.1 483.8,600.5 485.7,599.5 487.6,598.6 488.2,600.7 489.3,602.5 490.5,604.3 491.5,602.5 491.3,600.4 492.0,598.5 492.4,596.5 493.4,594.7 493.9,592.8 494.2,590.8 495.2,589.0 497.1,587.6 499.0,586.2 500.0,588.3 500.5,590.6 501.0,592.9 502.4,594.3 503.3,596.2 504.8,597.6 506.7,596.6 508.6,595.7 509.4,598.2 510.3,600.7 510.5,603.3 511.1,601.2 511.9,599.2 512.6,597.2 513.4,595.2 513.9,593.1 514.3,591.0 516.3,591.7 518.1,592.9 518.4,590.9 519.6,589.1 520.0,587.1 521.2,589.2 522.9,591.0 523.6,589.1 524.6,587.3 525.0,585.2 525.7,583.3 526.8,581.3 528.0,579.3 529.5,577.6 531.1,575.7 533.4,574.6 535.2,572.9 536.4,571.2 537.2,569.4 537.7,567.4 538.7,565.6 539.4,563.7 542.1,566.4 543.1,564.4 543.6,562.3 544.0,560.1 542.2,559.0 540.3,558.1 538.6,556.9 536.6,556.2 534.8,555.1 533.1,553.8 533.5,551.8 534.0,549.7 533.8,547.7 534.0,545.6 534.4,543.6 534.9,541.6 535.4,539.7 536.2,537.8 536.4,535.7 537.3,533.9 537.1,531.7 537.8,529.8 538.4,527.9 538.8,525.9 539.4,523.9 539.6,521.8 539.5,519.8 539.5,517.8 539.1,515.7 538.4,513.7 538.8,511.7 538.7,509.6 538.5,507.6 538.1,505.4 537.6,503.3 537.6,501.1 537.4,498.9 536.3,496.8 536.5,494.6 535.9,492.4 535.6,490.2 535.6,488.0 534.9,485.9 534.9,483.8 534.3,481.9 533.5,480.0 533.8,477.9 532.8,476.0 532.6,474.0 532.7,471.9 531.9,470.0 531.5,468.0 531.3,466.0 531.4,463.8 531.1,461.7 530.2,459.7 530.0,457.6 529.6,455.5 529.2,453.4 529.0,451.3 529.3,449.1 528.2,447.1 528.1,445.0 527.7,442.8 527.7,440.7 527.7,438.5 528.4,436.3 529.0,434.2 529.4,432.0 529.5,429.8 530.5,428.0 531.6,426.3 531.8,424.2 532.9,422.5 534.4,420.9 534.6,418.8 535.6,417.0 536.7,415.3 537.8,413.5 538.7,411.6 540.1,409.9 540.8,407.8 542.1,406.1 543.7,404.6 544.2,402.5 545.9,401.0 546.7,399.0 546.8,396.9 547.9,395.0 548.1,392.9 548.4,390.9 548.4,388.8 548.7,386.7 549.7,384.8 549.6,382.7 550.0,380.7 550.7,378.7 551.8,380.6 553.1,382.4 555.0,383.8 555.7,386.0 557.3,387.6 558.7,389.3 560.5,390.4 562.3,391.3 563.9,392.6 565.3,394.2 567.4,394.9 569.2,395.9 570.7,397.3 573.3,396.7 576.0,396.7 576.1,394.5 576.7,392.4 577.6,390.3 577.2,388.1 578.0,386.0 579.3,384.3 581.2,383.4 582.7,381.9 584.1,380.5 585.3,378.7 585.4,376.0 586.0,373.3 584.7,371.7 583.9,369.7 582.3,368.3 581.3,366.5 579.8,365.1 578.7,363.3 578.9,360.9 580.0,358.7 579.6,356.5 579.8,354.2 579.6,352.0 579.2,349.8 578.9,347.5 578.7,345.3 579.0,342.7 579.3,340.0 579.2,337.9 579.3,335.8 579.6,333.7 579.0,331.6 579.4,329.5 579.7,327.4 579.3,325.3 578.4,323.5 576.7,322.3 576.0,320.2 574.7,318.7 573.3,317.3 571.5,316.4 569.9,315.2 568.2,314.1 566.7,312.7 564.3,311.9 562.4,310.0 560.0,309.3 559.6,307.3 559.7,305.2 558.7,303.4 558.2,301.4 558.7,299.2 558.3,297.3 558.1,295.2 557.5,293.3 557.1,291.3 556.7,289.3 556.6,287.3 555.7,285.4 555.7,283.3 555.3,281.3 554.7,279.4 554.7,277.3 554.2,275.3 554.0,273.3 553.5,271.3" fill="none" stroke="#7a7a7a" stroke-width="1" shape-rendering="crispEdges"/><polygon points="699.7,100.7 701.5,99.6 703.4,98.7 705.4,97.9 707.3,96.9 707.1,99.6 707.8,102.2 708.1,103.7 709.0,104.8 709.8,106.0 711.2,106.7 711.2,108.5 712.8,109.1 713.8,110.2 714.1,111.6 714.9,112.8 715.0,114.4 715.7,115.9 716.5,117.1 716.8,118.5 717.9,119.6 717.6,121.3 718.9,122.2 719.5,123.5 721.0,123.8 722.5,124.1 724.0,124.9 725.6,124.7 726.3,127.3 724.6,128.5 724.1,130.4 724.4,132.3 724.8,134.2 724.6,135.6 724.2,137.0 724.1,138.4 725.6,139.0 726.3,140.4 727.0,141.8 728.2,142.8 730.0,143.1 730.3,144.9 731.7,145.6 733.0,147.0 734.0,148.6 733.8,150.2 735.1,151.3 735.7,152.6 735.7,154.1 736.2,155.5 736.1,157.2 737.1,158.5 736.9,160.2 737.8,161.6 738.5,163.3 739.7,164.6 739.6,166.2 739.4,167.7 738.8,169.2 738.5,170.7 738.3,172.3 737.8,173.8 737.9,175.3 737.4,176.7 737.1,178.1 737.4,179.6 737.9,181.1 737.8,182.5 737.5,183.9 737.1,185.4 737.6,186.8 737.7,188.3 737.0,189.7 735.9,191.1 734.7,192.4 733.2,193.5 734.4,194.8 734.3,196.6 734.5,198.3 735.6,199.7 736.2,201.2 736.7,202.6 737.3,204.0 738.5,205.0 737.0,205.7 735.7,206.7 734.9,208.2 733.5,209.0 732.4,210.3 732.9,211.8 731.7,213.3 732.3,214.9 732.1,216.4 731.5,217.9 732.2,219.4 732.3,221.0 731.3,222.5 731.7,224.0 730.8,225.2 730.7,226.8 729.4,227.8 729.5,229.7 728.6,231.4 727.9,233.1 727.7,234.6 726.3,235.4 726.2,237.1 727.1,238.5 724.8,238.5 722.5,237.0 720.3,236.2 718.2,238.3 715.7,240.0 712.6,237.7 711.7,235.2 711.0,232.7 710.4,230.1 710.0,228.1 709.4,226.2 709.1,224.1 708.7,222.1 708.1,220.2 706.7,218.5 705.1,217.0 704.4,214.8 702.7,213.3 702.2,211.3 701.1,209.5 700.7,207.4 700.3,205.4 699.9,203.4 698.5,201.7 698.2,199.6 697.6,197.5 697.9,195.4 697.7,193.2 697.9,191.1 697.4,189.0 698.8,186.8 699.7,184.4 699.2,182.4 698.9,180.3 698.6,178.3 698.5,176.2 697.5,174.3 697.4,172.2 698.2,169.2 697.7,167.2 697.0,165.2 697.1,163.1 696.1,161.2 696.5,159.0 695.7,157.0 695.3,155.0 694.5,153.0 694.4,150.9 693.9,148.8 693.8,146.6 693.9,144.3 693.3,142.2 692.9,140.1 693.2,137.8 692.5,135.7 692.6,133.6 692.5,131.4 692.2,129.3 692.3,127.1 692.5,125.0 693.8,123.4 694.1,121.3 695.4,119.7 696.4,118.0 697.1,116.1 698.2,114.4 698.6,112.4 698.8,110.4 698.9,108.3 698.9,106.3 698.5,104.2 698.9,102.2" fill="none" stroke="#7a7a7a" stroke-width="1" shape-rendering="crispEdges"/><polygon points="691.4,307.1 692.5,305.8 694.2,305.4 696.1,305.2 698.0,305.1 699.1,304.0 700.4,303.2 701.9,304.4 702.9,306.0 704.8,306.4 706.8,306.0 708.0,307.1 708.3,308.8 709.5,309.8 710.1,312.5 710.9,313.8 712.6,314.0 713.4,315.3 713.5,316.8 714.5,318.0 715.6,319.0 716.6,320.2 717.7,322.4 718.8,324.6 719.3,326.4 719.6,328.2 719.4,330.1 719.1,331.6 717.9,332.6 717.2,333.9 718.1,335.3 718.3,337.0 719.4,338.3 718.6,339.8 719.2,341.7 718.3,343.2 717.5,344.4 716.5,345.5 715.5,346.5 716.0,348.1 716.1,349.8 716.2,351.4 716.1,353.1 715.6,355.0 715.5,356.9 716.7,357.7 718.0,358.5 719.0,359.6 719.9,360.8 721.0,361.8 722.0,362.9 723.2,363.6 723.9,365.0 725.3,365.6 725.9,367.0 727.1,367.9 727.4,369.4 728.3,370.8 728.0,372.5 728.7,373.9 729.9,375.3 730.9,376.9 732.0,378.3 733.6,379.2 735.3,379.9 735.9,381.6 736.8,383.2 737.5,384.9 739.2,385.9 740.2,387.6 738.7,388.4 737.5,389.5 736.5,390.9 735.3,392.0 733.3,392.2 731.4,392.5 731.3,394.0 730.2,395.3 730.3,396.9 729.9,398.3 730.3,399.9 729.8,401.3 729.8,399.6 729.6,397.9 728.7,396.4 727.6,395.3 727.3,393.5 725.8,392.7 724.9,391.4 723.9,390.4 723.7,388.8 722.6,387.8 722.1,386.5 720.6,386.2 719.2,386.4 717.7,386.5 716.1,387.1 715.9,388.8 714.7,390.1 713.7,391.4 713.4,393.1 712.3,391.8 711.2,390.5 710.1,389.2 709.4,387.6 708.0,386.6 707.1,385.3 706.2,383.9 705.1,382.7 705.4,381.0 704.5,379.4 704.2,377.8 704.6,376.1 705.3,374.7 705.4,373.2 705.7,371.7 706.0,369.7 706.8,367.9 708.9,367.5 710.6,366.2 711.6,364.9 711.8,363.3 712.3,361.8 712.4,360.3 711.8,359.0 711.3,357.7 710.6,356.4 710.0,355.1 709.2,353.8 709.6,352.2 709.0,350.9 708.3,349.3 707.0,348.1 706.2,346.5 704.6,345.2 703.0,343.8 702.5,342.5 701.6,341.3 701.3,339.9 699.9,340.4 698.7,341.3 697.5,342.1 696.6,340.9 695.6,339.8 695.3,338.3 693.1,337.7 692.5,339.4 691.5,338.4 690.2,337.6 689.5,336.3 688.2,335.5 687.9,334.0 688.2,332.6 688.0,331.2 688.3,329.7 688.6,328.3 688.1,326.9 688.1,325.4 688.7,324.0 688.4,322.5 688.8,321.1 688.5,319.7 688.5,318.2 689.1,316.8 689.6,315.4 689.6,314.0 689.2,312.5 689.8,311.2 690.2,309.8 690.4,308.3" fill="none" stroke="#7a7a7a" stroke-width="1" shape-rendering="crispEdges"/><polygon points="565,309 567,308.5 570.8,315.8 569.2,317.6 565.2,310.5" fill="none" stroke="#7a7a7a" stroke-width="1" shape-rendering="crispEdges"/><path d="M62.5 106.5 V858.5" stroke="#000" stroke-width="1" fill="none"/><path d="M47 106.5 H62.5" stroke="#000" stroke-width="1"/><text x="0" y="0" transform="translate(27 106.5) rotate(-90)" text-anchor="middle" font-family='"Liberation Sans", sans-serif' font-size="25.5">2400000</text><path d="M47 294.5 H62.5" stroke="#000" stroke-width="1"/><text x="0" y="0" transform="translate(27 294.5) rotate(-90)" text-anchor="middle" font-family='"Liberation Sans", sans-serif' font-size="25.5">2350000</text><path d="M47 482.5 H62.5" stroke="#000" stroke-width="1"/><text x="0" y="0" transform="translate(27 482.5) rotate(-90)" text-anchor="middle" font-family='"Liberation Sans", sans-serif' font-size="25.5">2300000</text><path d="M47 670.5 H62.5" stroke="#000" stroke-width="1"/><text x="0" y="0" transform="translate(27 670.5) rotate(-90)" text-anchor="middle" font-family='"Liberation Sans", sans-serif' font-size="25.5">2250000</text><path d="M47 858.5 H62.5" stroke="#000" stroke-width="1"/><text x="0" y="0" transform="translate(27 858.5) rotate(-90)" text-anchor="middle" font-family='"Liberation Sans", sans-serif' font-size="25.5">2200000</text><path d="M247.5 986.5 H811.5" stroke="#000" stroke-width="1" fill="none"/><path d="M247.5 986.5 V1001" stroke="#000" stroke-width="1"/><text x="247.5" y="1041" text-anchor="middle" font-family='"Liberation Sans", sans-serif' font-size="25.1">1750000</text><path d="M435.5 986.5 V1001" stroke="#000" stroke-width="1"/><text x="435.5" y="1041" text-anchor="middle" font-family='"Liberation Sans", sans-serif' font-size="25.1">1800000</text><path d="M623.5 986.5 V1001" stroke="#000" stroke-width="1"/><text x="623.5" y="1041" text-anchor="middle" font-family='"Liberation Sans", sans-serif' font-size="25.1">1850000</text><path d="M811.5 986.5 V1001" stroke="#000" stroke-width="1"/><text x="811.5" y="1041" text-anchor="middle" font-family='"Liberation Sans", sans-serif' font-size="25.1">1900000</text><rect x="898" y="153" width="28" height="741" fill="url(#cb)"/><path d="M926 897.5 H941.5" stroke="#000" stroke-width="1"/><text x="956" y="907.0" font-family='"Liberation Sans", sans-serif' font-size="25.5">0.0</text><path d="M926 712.5 H941.5" stroke="#000" stroke-width="1"/><text x="956" y="722.0" font-family='"Liberation Sans", sans-serif' font-size="25.5">0.2</text><path d="M926 527.5 H941.5" stroke="#000" stroke-width="1"/><text x="956" y="537.0" font-family='"Liberation Sans", sans-serif' font-size="25.5">0.4</text><path d="M926 342.5 H941.5" stroke="#000" stroke-width="1"/><text x="956" y="352.0" font-family='"Liberation Sans", sans-serif' font-size="25.5">0.6</text><path d="M926 157.5 H941.5" stroke="#000" stroke-width="1"/><text x="956" y="167.0" font-family='"Liberation Sans", sans-serif' font-size="25.5">0.8</text><text x="475" y="26.5" text-anchor="middle" font-family='"Liberation Sans", sans-serif' font-size="25.5">2010 Landcape capability - APPA: Hudson Highlands</text><text x="475" y="57" text-anchor="middle" font-family='"Liberation Sans", sans-serif' font-size="25.5">Marsh wren</text></svg>
</body></html>
